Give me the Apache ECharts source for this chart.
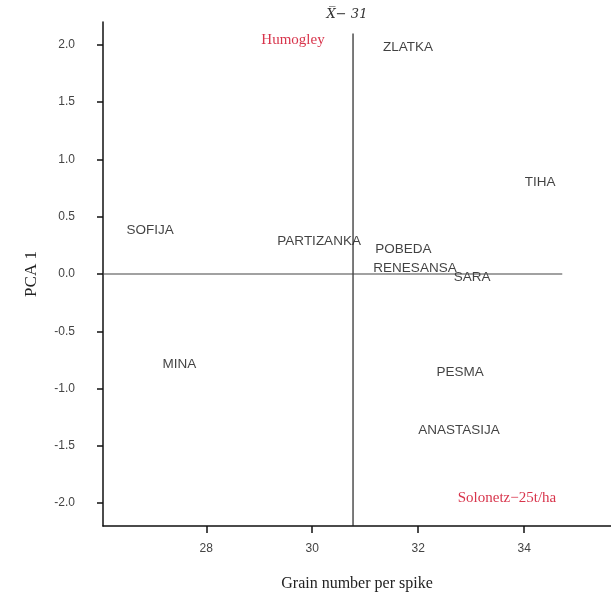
<!DOCTYPE html>
<html>
<head>
<meta charset="utf-8">
<script src="https://cdn.jsdelivr.net/npm/echarts@6/dist/echarts.min.js"></script>
<style>
  html, body { margin: 0; padding: 0; background: #fff; }
  #main { width: 611px; height: 597px; }
</style>
</head>
<body>
<div id="main"></div>
<script>
// cultivars, grain number per spike (x) and PCA 1 score (y)
var cultivars = ['ZLATKA', 'TIHA', 'SOFIJA', 'PARTIZANKA', 'POBEDA', 'RENESANSA', 'SARA', 'MINA', 'PESMA', 'ANASTASIJA'];
var grainNumber = [31.81, 34.30, 26.94, 30.13, 31.72, 31.94, 33.02, 27.49, 32.79, 32.77];
var pca1 = [1.98, 0.80, 0.38, 0.29, 0.22, 0.05, -0.03, -0.79, -0.86, -1.36];

var xTicks = [28, 30, 32, 34];
var yTicks = [-2, -1.5, -1, -0.5, 0, 0.5, 1, 1.5, 2];

var meanX = 30.77;
var meanLineY = [-2.2, 2.1];
var zeroLineX = [26.05, 34.72];

var myChart = echarts.init(document.getElementById('main'));

var points = cultivars.map(function (name, i) {
    return { name: name, value: [grainNumber[i], pca1[i]] };
});

var option = {
    backgroundColor: '#fff',
    animation: false,
    grid: {
        left: 103,
        right: 0,
        top: 22,
        bottom: 65
    },
    xAxis: {
        type: 'value',
        min: 26.05,
        max: 35.64,
        name: 'Grain number per spike',
        nameLocation: 'middle',
        nameGap: 50,
        nameTextStyle: { fontFamily: 'Liberation Serif', fontSize: 16, color: '#222' },
        axisLine: { onZero: false, lineStyle: { color: '#111', width: 1.5 } },
        axisTick: { customValues: xTicks, length: 7, lineStyle: { color: '#111', width: 1.5 } },
        axisLabel: {
            customValues: xTicks,
            margin: 17,
            fontFamily: 'Liberation Sans',
            fontSize: 12,
            color: '#444'
        },
        splitLine: { show: false }
    },
    yAxis: {
        type: 'value',
        min: -2.2,
        max: 2.2,
        name: 'PCA 1',
        nameLocation: 'middle',
        nameGap: 63,
        nameTextStyle: { fontFamily: 'Liberation Serif', fontSize: 17, color: '#222' },
        axisLine: { onZero: false, lineStyle: { color: '#111', width: 1.5 } },
        axisTick: { customValues: yTicks, length: 6, lineStyle: { color: '#111', width: 1.5 } },
        axisLabel: {
            customValues: yTicks,
            margin: 28,
            fontFamily: 'Liberation Sans',
            fontSize: 12,
            color: '#444',
            formatter: function (v) { return v.toFixed(1); }
        },
        splitLine: { show: false }
    },
    series: [
        {
            type: 'line',
            data: [[meanX, meanLineY[0]], [meanX, meanLineY[1]]],
            symbol: 'none',
            lineStyle: { color: '#222', width: 1.2 },
            silent: true
        },
        {
            type: 'line',
            data: [[zeroLineX[0], 0], [zeroLineX[1], 0]],
            symbol: 'none',
            lineStyle: { color: '#444', width: 1.2 },
            silent: true
        },
        {
            type: 'scatter',
            data: points,
            symbolSize: 1,
            itemStyle: { color: 'rgba(0,0,0,0)' },
            label: {
                show: true,
                position: 'inside',
                formatter: '{b}',
                fontFamily: 'Liberation Sans',
                fontSize: 13.5,
                color: '#111'
            }
        }
    ],
    graphic: [
        {
            type: 'text',
            x: 347, y: 15,
            style: {
                text: 'X\u0305\u2212 31',
                fontFamily: 'DejaVu Serif',
                fontStyle: 'italic',
                fontSize: 13,
                fill: '#333',
                align: 'center',
                verticalAlign: 'middle'
            }
        },
        {
            type: 'text',
            x: 293, y: 40,
            style: {
                text: 'Humogley',
                fontFamily: 'Liberation Serif',
                fontSize: 15,
                fill: '#d8354c',
                align: 'center',
                verticalAlign: 'middle'
            }
        },
        {
            type: 'text',
            x: 507, y: 498,
            style: {
                text: 'Solonetz\u221225t/ha',
                fontFamily: 'Liberation Serif',
                fontSize: 15,
                fill: '#d8354c',
                align: 'center',
                verticalAlign: 'middle'
            }
        }
    ]
};

myChart.setOption(option);
</script>
</body>
</html>
